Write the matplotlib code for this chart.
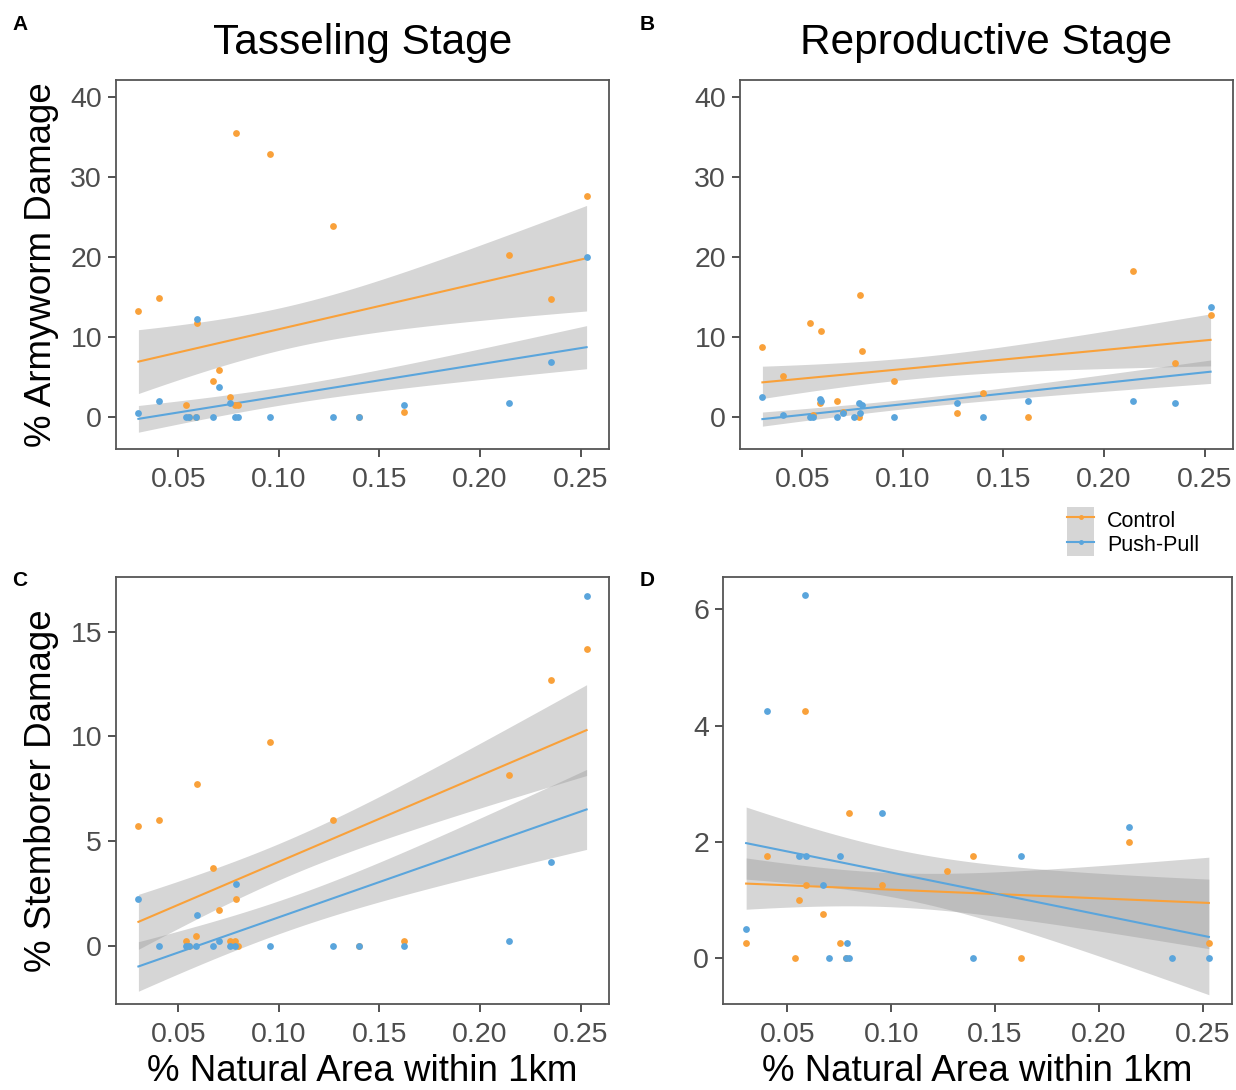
import math
import numpy as np
import matplotlib
matplotlib.use("Agg")
import matplotlib.pyplot as plt
from matplotlib.lines import Line2D
from matplotlib.patches import Patch
from matplotlib.legend_handler import HandlerTuple

plt.rcParams["font.family"] = ["Liberation Sans", "DejaVu Sans"]

# ---- data: % natural area within 1 km vs % damage per plot ----
# Panel A: armyworm damage, tasseling stage
armyworm_tassel_ctrl_x = [0.0301, 0.0402, 0.0536, 0.0555, 0.0586, 0.0591, 0.0672, 0.0700, 0.0755,
                          0.0781, 0.0786, 0.0795, 0.0957, 0.1268, 0.1396, 0.1624, 0.2146, 0.2354, 0.2530]
armyworm_tassel_ctrl_y = [13.2, 14.9, 1.5, 0.0, 0.0, 11.7, 4.5, 5.9, 2.5,
                          1.5, 35.5, 1.5, 32.9, 23.9, 0.0, 0.6, 20.2, 14.75, 27.6]
armyworm_tassel_pp_x = [0.0301, 0.0402, 0.0536, 0.0555, 0.0586, 0.0591, 0.0672, 0.0700, 0.0755,
                        0.0781, 0.0795, 0.0957, 0.1268, 0.1396, 0.1624, 0.2146, 0.2354, 0.2530]
armyworm_tassel_pp_y = [0.46, 2.0, 0.0, 0.0, 0.0, 12.2, 0.0, 3.7, 1.7,
                        0.0, 0.0, 0.0, 0.0, 0.0, 1.5, 1.7, 6.9, 20.0]

# Panel B: armyworm damage, reproductive stage
armyworm_repro_ctrl_x = [0.0301, 0.0402, 0.0536, 0.0555, 0.0586, 0.0591, 0.0672, 0.0700, 0.0781,
                         0.0786, 0.0795, 0.0957, 0.1268, 0.1396, 0.1624, 0.2146, 0.2354, 0.2530]
armyworm_repro_ctrl_y = [8.8, 5.1, 11.7, 0.3, 1.7, 10.7, 2.0, 0.6, 0.0,
                         15.25, 8.3, 4.5, 0.46, 3.0, 0.0, 18.3, 6.75, 12.7]
armyworm_repro_pp_x = [0.0301, 0.0402, 0.0536, 0.0555, 0.0586, 0.0591, 0.0672, 0.0700, 0.0755,
                       0.0781, 0.0786, 0.0795, 0.0957, 0.1268, 0.1396, 0.1624, 0.2146, 0.2354, 0.2530]
armyworm_repro_pp_y = [2.5, 0.3, 0.0, 0.0, 2.2, 2.0, 0.0, 0.46, 0.0,
                       1.7, 0.46, 1.5, 0.0, 1.7, 0.0, 2.0, 2.0, 1.7, 13.7]

# Panel C: stemborer damage, tasseling stage
stemborer_tassel_ctrl_x = [0.0301, 0.0402, 0.0536, 0.0555, 0.0586, 0.0591, 0.0672, 0.0700, 0.0755,
                           0.0781, 0.0786, 0.0795, 0.0957, 0.1268, 0.1396, 0.1624, 0.2146, 0.2354,
                           0.2530]
stemborer_tassel_ctrl_y = [5.73, 5.99, 0.24, 0.0, 0.49, 7.73, 3.72, 1.73, 0.24,
                           0.24, 2.23, 0.0, 9.73, 5.99, 0.0, 0.24, 8.17, 12.69,
                           14.18]
stemborer_tassel_pp_x = [0.0301, 0.0402, 0.0536, 0.0555, 0.0586, 0.0591, 0.0672, 0.0700, 0.0755,
                         0.0781, 0.0786, 0.0957, 0.1268, 0.1396, 0.1624, 0.2146, 0.2354, 0.2530]
stemborer_tassel_pp_y = [2.23, 0.0, 0.0, 0.0, 0.0, 1.47, 0.0, 0.24, 0.0,
                         0.0, 2.95, 0.0, 0.0, 0.0, 0.0, 0.24, 3.99, 16.7]

# Panel D: stemborer damage, reproductive stage
stemborer_repro_ctrl_x = [0.0301, 0.0402, 0.0536, 0.0555, 0.0586, 0.0591, 0.0672, 0.0755, 0.0781,
                          0.0795, 0.0957, 0.1268, 0.1396, 0.1624, 0.2146, 0.2530]
stemborer_repro_ctrl_y = [0.25, 1.75, 0.0, 1.0, 4.25, 1.25, 0.75, 0.25, 0.0,
                          2.5, 1.25, 1.5, 1.75, 0.0, 2.0, 0.25]
stemborer_repro_pp_x = [0.0301, 0.0402, 0.0555, 0.0586, 0.0591, 0.0672, 0.0700, 0.0755, 0.0781,
                        0.0786, 0.0795, 0.0957, 0.1396, 0.1624, 0.2146, 0.2354, 0.2530]
stemborer_repro_pp_y = [0.5, 4.25, 1.75, 6.25, 1.75, 1.25, 0.0, 1.75, 0.0,
                        0.25, 0.0, 2.5, 0.0, 1.75, 2.25, 0.0, 0.0]

x_ticks = [0.05, 0.10, 0.15, 0.20, 0.25]
x_tick_labels = ["0.05", "0.10", "0.15", "0.20", "0.25"]
group_labels = ["Control", "Push-Pull"]

ORANGE = "#F9A13A"
BLUE = "#5AA5DC"
RIBBON = "#999999"
TICK_GREY = "#4D4D4D"


def lm_band(x, y, n_grid=80, se_mult=1.0):
    """Least-squares line with a +/- standard-error band for the mean."""
    x = np.asarray(x, float)
    y = np.asarray(y, float)
    n = len(x)
    b1, b0 = np.polyfit(x, y, 1)
    resid = y - (b0 + b1 * x)
    s = math.sqrt(np.sum(resid ** 2) / (n - 2))
    xm = x.mean()
    sxx = np.sum((x - xm) ** 2)
    gx = np.linspace(x.min(), x.max(), n_grid)
    fit = b0 + b1 * gx
    se = s * np.sqrt(1 / n + (gx - xm) ** 2 / sxx)
    return gx, fit, fit - se_mult * se, fit + se_mult * se


def panel(ax, ctrl_x, ctrl_y, pp_x, pp_y):
    for xs, ys, col in [(ctrl_x, ctrl_y, ORANGE), (pp_x, pp_y, BLUE)]:
        gx, fit, lo, hi = lm_band(xs, ys)
        ax.fill_between(gx, lo, hi, color=RIBBON, alpha=0.4, linewidth=0, zorder=1)
        ax.plot(gx, fit, color=col, lw=1.5, zorder=3)
    ax.scatter(ctrl_x, ctrl_y, s=24, color=ORANGE, linewidths=0, zorder=4)
    ax.scatter(pp_x, pp_y, s=24, color=BLUE, linewidths=0, zorder=4)
    ax.set_xticks(x_ticks)
    ax.set_xticklabels(x_tick_labels)
    ax.margins(x=0.05, y=0.05)
    for sp in ax.spines.values():
        sp.set_color("#555555")
        sp.set_linewidth(1.3)
    ax.tick_params(direction="out", length=6, width=1.3, color="#444444",
                   labelsize=20.5, labelcolor=TICK_GREY)
    ax.tick_params(axis="x", pad=7)
    ax.tick_params(axis="y", pad=4)


W, H = 1236, 1090
fig = plt.figure(figsize=(W / 100, H / 100), dpi=100)


def box(l, t, r, b):
    return [l / W, 1 - b / H, (r - l) / W, (b - t) / H]


axA = fig.add_axes(box(116, 80, 609, 449))
axB = fig.add_axes(box(740, 80, 1233, 449))
axC = fig.add_axes(box(116, 577, 609, 1004))
axD = fig.add_axes(box(723, 577, 1232, 1004))

panel(axA, armyworm_tassel_ctrl_x, armyworm_tassel_ctrl_y, armyworm_tassel_pp_x, armyworm_tassel_pp_y)
panel(axB, armyworm_repro_ctrl_x, armyworm_repro_ctrl_y, armyworm_repro_pp_x, armyworm_repro_pp_y)
panel(axC, stemborer_tassel_ctrl_x, stemborer_tassel_ctrl_y, stemborer_tassel_pp_x, stemborer_tassel_pp_y)
panel(axD, stemborer_repro_ctrl_x, stemborer_repro_ctrl_y, stemborer_repro_pp_x, stemborer_repro_pp_y)

for ax in (axA, axB):
    ax.set_ylim(-4.0, 42.1)
    ax.set_yticks([0, 10, 20, 30, 40])
axC.set_ylim(-2.77, 17.6)
axC.set_yticks([0, 5, 10, 15])
axD.set_ylim(-0.80, 6.56)
axD.set_yticks([0, 2, 4, 6])

axA.set_title("Tasseling Stage", fontsize=30.5, pad=19)
axB.set_title("Reproductive Stage", fontsize=30.5, pad=19)
axA.set_ylabel("% Armyworm Damage", fontsize=26.5, labelpad=8)
axC.set_ylabel("% Stemborer Damage", fontsize=26.5, labelpad=8)
axC.set_xlabel("% Natural Area within 1km", fontsize=26.5, labelpad=4)
axD.set_xlabel("% Natural Area within 1km", fontsize=26.5, labelpad=4)

for letter, (px, py) in zip("ABCD", [(20, 25), (647, 25), (20, 580), (647, 580)]):
    fig.text(px / W, 1 - py / H, letter, fontsize=15, fontweight="bold", ha="center", va="center")

handles = [
    (Patch(facecolor=RIBBON, alpha=0.4, edgecolor="none"),
     Line2D([], [], color=ORANGE, lw=1.5, marker="o", ms=2.5)),
    (Patch(facecolor=RIBBON, alpha=0.4, edgecolor="none"),
     Line2D([], [], color=BLUE, lw=1.5, marker="o", ms=2.5)),
]
fig.legend(handles, group_labels, handler_map={tuple: HandlerTuple(ndivide=1, pad=0)},
           loc="upper left", bbox_to_anchor=(1063 / W, 1 - 503 / H), frameon=False,
           fontsize=15.5, handlelength=1.25, handleheight=1.38, labelspacing=0.0,
           handletextpad=0.6, borderpad=0.2, borderaxespad=0)

fig.savefig("out.png", dpi=100)
